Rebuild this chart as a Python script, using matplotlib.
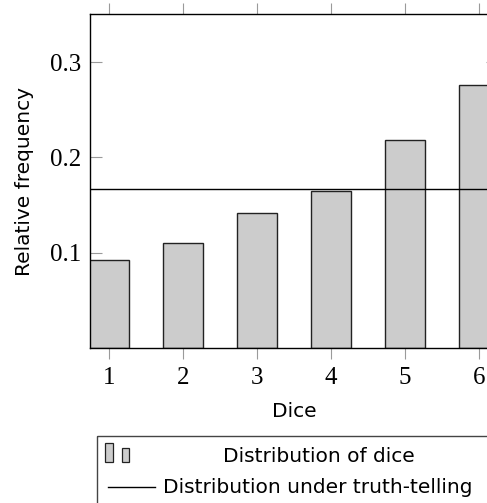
import matplotlib
matplotlib.use("Agg")
import matplotlib.pyplot as plt
from matplotlib.patches import Rectangle

# data
dice = [1, 2, 3, 4, 5, 6]
rel_freq = [0.092, 0.110, 0.142, 0.165, 0.218, 0.276]
truth_telling = 1 / 6
y_ticks = [0.1, 0.2, 0.3]
y_tick_labels = ["0.1", "0.2", "0.3"]

bar_fill = "#cccccc"
edge = "#222222"
tick_gray = "#9a9a9a"
W, H = 487, 503
sans = 14.5

fig = plt.figure(figsize=(W / 100, H / 100), dpi=100)

# axes box in pixels: left 90, right 498 (cut off by the image), top 14, bottom 348
ax = fig.add_axes([90 / W, 1 - 348 / H, (498 - 90) / W, (348 - 14) / H])

ax.bar(dice, rel_freq, width=0.54, color=bar_fill, edgecolor=edge, linewidth=1.0, zorder=2)
ax.axhline(truth_telling, color="black", linewidth=1.0, zorder=3)

ax.set_xlim(0.74, 6.26)
ax.set_ylim(0, 0.3505)
ax.set_xticks(dice)
ax.set_xticklabels([str(d) for d in dice], family="Liberation Serif", fontsize=18)
ax.set_yticks(y_ticks)
ax.set_yticklabels(y_tick_labels, family="Liberation Serif", fontsize=18)

ax.tick_params(axis="x", direction="out", top=True, bottom=True, length=8, width=0.8,
               color=tick_gray, pad=6)
ax.tick_params(axis="y", direction="in", left=True, right=True, length=8.5, width=0.8,
               color=tick_gray, pad=6.5)
for s in ax.spines.values():
    s.set_color("black")
    s.set_linewidth(1.0)

ax.set_xlabel("Dice", family="DejaVu Sans", fontsize=sans)
ax.xaxis.set_label_coords(0.5, -0.163)
ax.set_ylabel("Relative frequency", family="DejaVu Sans", fontsize=sans)
ax.yaxis.set_label_coords(-0.137, 0.5)

# legend box below the axes, drawn in pixel coordinates
lg = fig.add_axes([0, 0, 1, 1], zorder=5)
lg.set_xlim(0, W)
lg.set_ylim(H, 0)
lg.axis("off")
lg.add_patch(Rectangle((97, 436), 420, 90, fill=False, edgecolor="#444444", linewidth=1.0))
lg.add_patch(Rectangle((105, 443), 8, 19, facecolor=bar_fill, edgecolor=edge, linewidth=0.9))
lg.add_patch(Rectangle((122, 448), 7, 14, facecolor=bar_fill, edgecolor=edge, linewidth=0.9))
lg.plot([108, 155], [487, 487], color="black", linewidth=1.0)
lg.text(318.5, 462, "Distribution of dice", family="DejaVu Sans", fontsize=sans,
        ha="center", va="baseline")
lg.text(163, 493, "Distribution under truth-telling", family="DejaVu Sans", fontsize=sans,
        ha="left", va="baseline")

fig.savefig("out.png", dpi=100)
